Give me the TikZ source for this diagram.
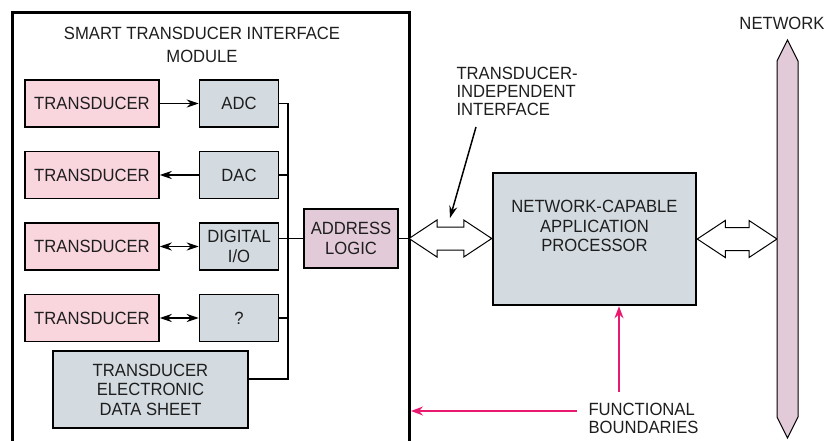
\documentclass[tikz,border=0pt]{standalone}
\usepackage{fontspec}
\setmainfont{Liberation Sans}[FakeStretch=0.94]
\usetikzlibrary{positioning,calc,arrows.meta}
\definecolor{tdpink}{RGB}{249,214,221}
\definecolor{blkgray}{RGB}{211,219,225}
\definecolor{addrmauve}{RGB}{227,202,216}
\definecolor{bndpink}{RGB}{233,25,112}
\definecolor{txtgray}{RGB}{30,30,30}
\newcommand{\fatarrow}[2]{%
	\draw[fill=white, line width=1pt] let \p1=(#1), \p2=(#2) in
		(\x1,\y1) -- ++(28pt,18.5pt) -- ++(0pt,-7pt) -- (\x2-28pt,\y1+11.5pt) -- ++(0pt,7pt)
		-- (\x2,\y1) -- ++(-28pt,-18.5pt) -- ++(0pt,7pt) -- (\x1+28pt,\y1-11.5pt) -- ++(0pt,-7pt) -- cycle;}

\begin{document}
\begin{tikzpicture}[x=1pt, y=-1pt, font=\fontsize{17.7}{19.5}\selectfont, text=txtgray,
	box/.style={draw, line width=1.5pt, align=center, inner sep=0pt},
	tdbox/.style={box, fill=tdpink, minimum width=134pt, minimum height=47pt},
	cvbox/.style={box, fill=blkgray, minimum width=79pt, minimum height=47pt},
	sig/.style={line width=1.5pt, -{Stealth[length=12pt,width=8pt]}},
	dsig/.style={line width=1.5pt, {Stealth[length=12pt,width=8pt]}-{Stealth[length=12pt,width=8pt]}},
	bus/.style={line width=1.3pt},
	bnd/.style={bndpink, line width=1.5pt, -{Stealth[length=12pt,width=9pt]}},
	lbl/.style={align=left, font=\fontsize{17.7}{18}\selectfont}]
	\useasboundingbox (0,0) rectangle (836,441);
	\draw[line width=3pt] (12,470) -- (12,13) -- (409,13) -- (409,470);
	\node[align=center] (title) at (202,45) {SMART TRANSDUCER INTERFACE\\[3pt]MODULE};
	
	\node[tdbox] (tr1) at (92,103.5) {TRANSDUCER};
	\node[tdbox, below=23pt of tr1] (tr2) {TRANSDUCER};
	\node[tdbox, below=23pt of tr2] (tr3) {TRANSDUCER};
	\node[tdbox, below=23pt of tr3] (tr4) {TRANSDUCER};
	\node[cvbox, right=39pt of tr1] (adc) {ADC};
	\node[cvbox, right=39pt of tr2] (dac) {DAC};
	\node[cvbox, right=39pt of tr3] (dio) {DIGITAL\\I/O};
	\node[cvbox, right=39pt of tr4] (unk) {?};
	\node[box, fill=blkgray, minimum width=195pt, minimum height=77pt] (teds) at (150.5,389.5) {TRANSDUCER\\ELECTRONIC\\DATA SHEET};
	\node[box, fill=addrmauve, minimum width=94pt, minimum height=59pt] (addr) at (351,238.5) {ADDRESS\\LOGIC};
	\node[box, fill=blkgray, line width=2.5pt, minimum width=203pt, minimum height=132pt] (ncap) at (594.5,239) {NETWORK-CAPABLE\\APPLICATION\\PROCESSOR\\[6pt]};
	
	\draw[sig] (tr1) -- (adc);
	\draw[sig] (dac) -- (tr2);
	\draw[dsig] (tr3) -- (dio);
	\draw[dsig] (tr4) -- (unk);
	
	\coordinate (bus) at (288,0);
	\coordinate (tedsout) at (248,379);
	\draw[bus] (adc.east) -| (bus |- tedsout) -- (tedsout);
	\draw[bus] (dac.east) -- (dac.east -| bus);
	\draw[bus] (unk.east) -- (unk.east -| bus);
	\draw[bus] (addr.west -| dio.east) -- (addr.west);
	
	\coordinate (tii) at (409,238.5);
	\coordinate (netw) at (777,238.5);
	\draw[bus] (addr.east) -- (tii);
	\fatarrow{tii}{ncap.west}
	\fatarrow{ncap.east}{netw}
	
	\draw[fill=addrmauve, line width=1pt] (777,61) -- (787.5,40) -- (798,61) -- (798,417) -- (787.5,438) -- (777,417) -- cycle;
	\node (net) at (782,23) {NETWORK};
	
	\node[lbl, anchor=north west] (tiilbl) at (453,64) {TRANSDUCER-\\INDEPENDENT\\INTERFACE};
	\coordinate (tiifrom) at (476,127);
	\coordinate (tiito) at (450,218);
	\draw[sig] (tiifrom) -- (tiito);
	
	\node[lbl, anchor=west] (fb) at (585,418) {FUNCTIONAL\\BOUNDARIES};
	\coordinate (fbup) at (619,392);
	\coordinate (fbleft) at (577,411);
	\coordinate (modedge) at (411,0);
	\draw[bnd] (fbup) -- (fbup |- ncap.south);
	\draw[bnd] (fbleft) -- (fbleft -| modedge);
\end{tikzpicture}
\end{document}
